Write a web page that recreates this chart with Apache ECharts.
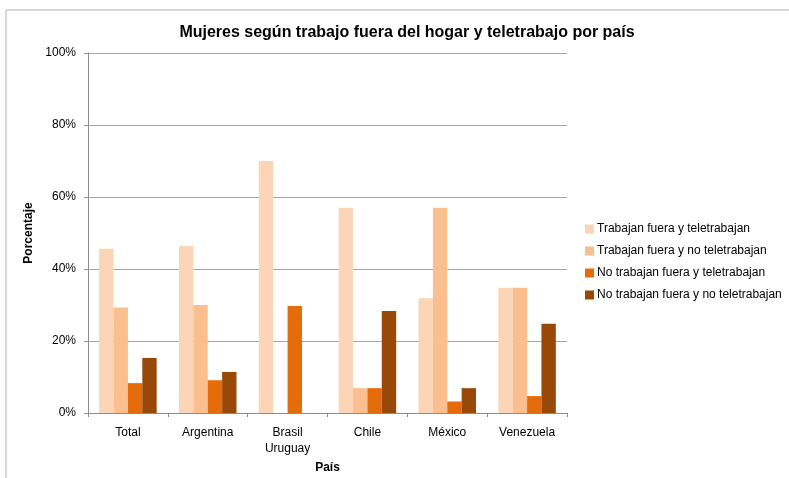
<!DOCTYPE html>
<html>
<head>
<meta charset="utf-8">
<script src="https://cdn.jsdelivr.net/npm/echarts@6/dist/echarts.min.js"></script>
<style>
  html, body { margin: 0; padding: 0; background: #fff; }
  #chart { width: 789px; height: 478px; }
</style>
</head>
<body>
<div id="chart"></div>
<script>
// datos
var paises = ['Total', 'Argentina', 'Brasil\nUruguay', 'Chile', 'México', 'Venezuela'];
var fueraTele = [45.6, 46.4, 70.0, 57.0, 31.9, 34.8];
var fueraNoTele = [29.3, 30.0, 0, 6.9, 57.0, 34.8];
var noFueraTele = [8.3, 9.1, 29.7, 6.9, 3.2, 4.7];
var noFueraNoTele = [15.3, 11.4, 0, 28.3, 6.9, 24.8];

var chartDom = document.getElementById('chart');
var myChart = echarts.init(chartDom);
var font = 'Liberation Sans, Arial, sans-serif';

function serie(name, data, color) {
  return {
    name: name,
    type: 'bar',
    data: data,
    barGap: '0%',
    barCategoryGap: '28%',
    itemStyle: { color: color },
    emphasis: { disabled: true }
  };
}

var option = {
  animation: false,
  backgroundColor: '#fff',
  textStyle: { fontFamily: font },
  graphic: [{
    type: 'rect',
    shape: { x: 6, y: 10, width: 800, height: 500 },
    style: { fill: 'none', stroke: '#b0b0b0', lineWidth: 1 },
    silent: true
  }],
  title: {
    text: 'Mujeres según trabajo fuera del hogar y teletrabajo por país',
    left: 402,
    top: 20,
    textAlign: 'center',
    textStyle: { fontFamily: font, fontSize: 16, fontWeight: 'bold', color: '#000' }
  },
  legend: {
    orient: 'vertical',
    left: 580,
    top: 218,
    itemWidth: 9,
    itemHeight: 9,
    itemGap: 10,
    icon: 'rect',
    textStyle: { fontFamily: font, fontSize: 12, color: '#000', padding: [0, 0, 0, -2] },
    data: ['Trabajan fuera y teletrabajan', 'Trabajan fuera y no teletrabajan',
      'No trabajan fuera y teletrabajan', 'No trabajan fuera y no teletrabajan']
  },
  grid: { left: 88, right: 222, top: 53, bottom: 65, outerBoundsMode: 'none', containLabel: false },
  xAxis: {
    type: 'category',
    data: paises,
    name: 'País',
    nameLocation: 'middle',
    nameGap: 35,
    nameTextStyle: { fontFamily: font, fontSize: 12, fontWeight: 'bold', color: '#000' },
    axisLine: { lineStyle: { color: '#8c8c8c' } },
    axisTick: { show: true, length: 4, lineStyle: { color: '#8c8c8c' } },
    axisLabel: { fontFamily: font, fontSize: 12, color: '#000', margin: 12, lineHeight: 16, interval: 0 }
  },
  yAxis: {
    type: 'value',
    min: 0,
    max: 100,
    interval: 20,
    name: 'Porcentaje',
    nameLocation: 'middle',
    nameGap: 47,
    nameTextStyle: { fontFamily: font, fontSize: 12, fontWeight: 'bold', color: '#000' },
    axisLine: { show: true, lineStyle: { color: '#8c8c8c' } },
    axisTick: { show: true, length: 4, lineStyle: { color: '#8c8c8c' } },
    axisLabel: { fontFamily: font, fontSize: 12, color: '#000', margin: 12, formatter: '{value}%' },
    splitLine: { lineStyle: { color: '#a6a6a6' } }
  },
  series: [
    serie('Trabajan fuera y teletrabajan', fueraTele, '#FBD5B5'),
    serie('Trabajan fuera y no teletrabajan', fueraNoTele, '#F9BF8F'),
    serie('No trabajan fuera y teletrabajan', noFueraTele, '#E46C0A'),
    serie('No trabajan fuera y no teletrabajan', noFueraNoTele, '#984807')
  ]
};

option && myChart.setOption(option);
</script>
</body>
</html>
